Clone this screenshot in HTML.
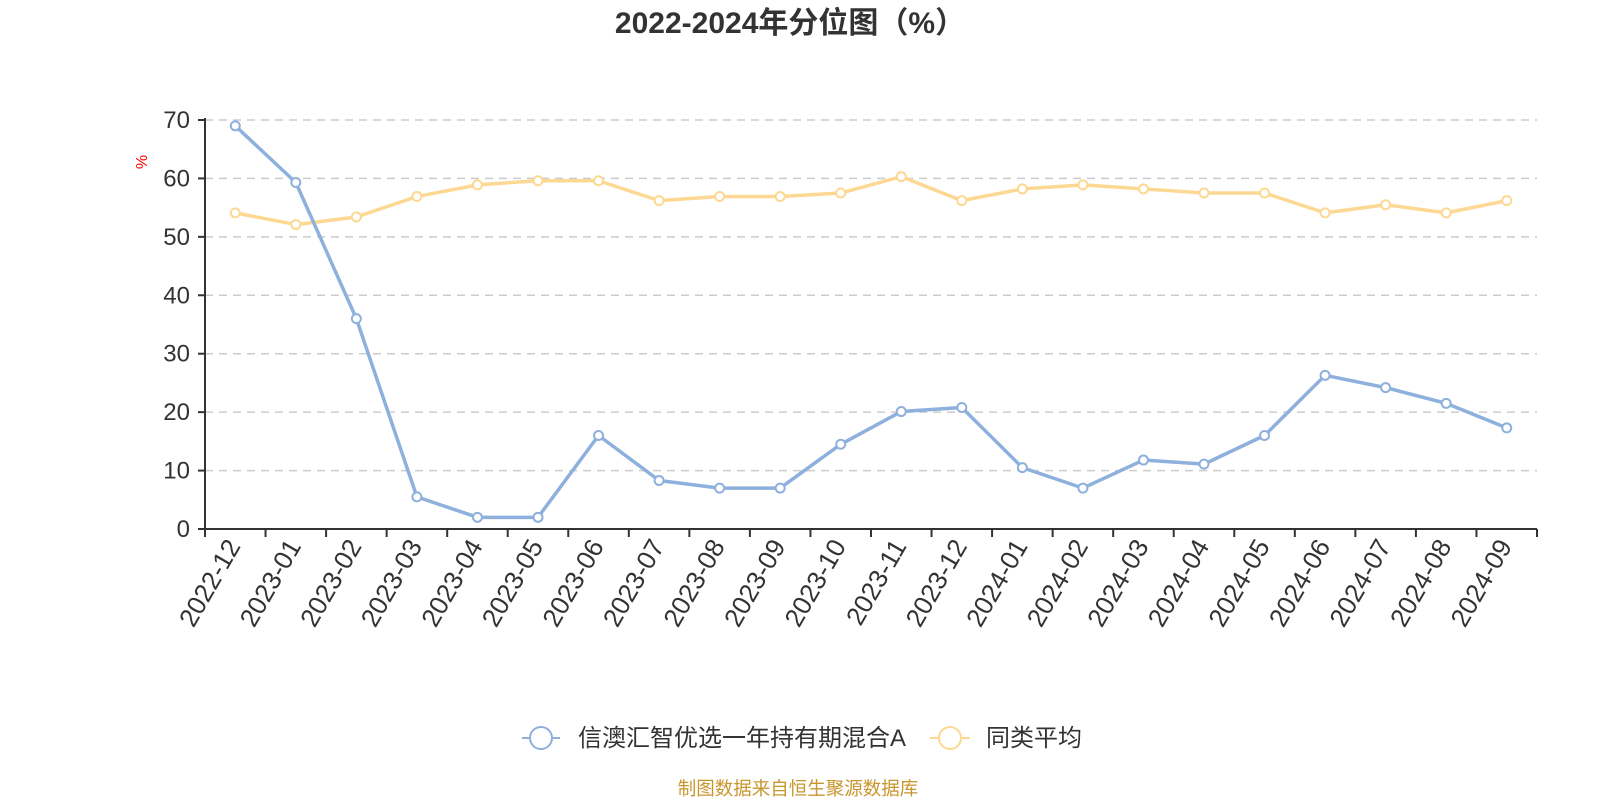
<!DOCTYPE html>
<html><head><meta charset="utf-8"><style>
html,body{margin:0;padding:0;background:#fff;}
svg{display:block;font-family:"Liberation Sans","Noto Sans CJK SC",sans-serif;}
</style></head><body>
<svg width="1600" height="800" viewBox="0 0 1600 800" xmlns="http://www.w3.org/2000/svg">
<text x="790" y="33" text-anchor="middle" font-size="30" font-weight="bold" fill="#333">2022-2024年分位图（%）</text>
<text x="0" y="0" transform="translate(147,162) rotate(-90)" text-anchor="middle" font-size="16" fill="#f00">%</text>
<g id="grid"></g>
<g id="chart"></g>
<g font-size="24" fill="#333">
<line x1="522" y1="738" x2="560" y2="738" stroke="#8eb0dc" stroke-width="2"/>
<circle cx="541" cy="738" r="11" fill="#fff" stroke="#8eb0dc" stroke-width="2"/>
<text x="578" y="746">信澳汇智优选一年持有期混合A</text>
<line x1="930" y1="738" x2="970" y2="738" stroke="#fdd893" stroke-width="2"/>
<circle cx="950" cy="738" r="11" fill="#fff" stroke="#fdd893" stroke-width="2"/>
<text x="986" y="746">同类平均</text>
</g>
<text x="798" y="795" text-anchor="middle" font-size="18.5" fill="#c8962e">制图数据来自恒生聚源数据库</text>
</svg>
<script>
const ns="http://www.w3.org/2000/svg";
const g=document.getElementById('chart'),gr=document.getElementById('grid');
function el(t,a,p){const e=document.createElementNS(ns,t);for(const k in a)e.setAttribute(k,a[k]);if(p)p.appendChild(e);return e;}
const L=205,R=1537,Y0=529,S=5.843,n=22,w=(R-L)/n;
for(let v=0;v<=70;v+=10){const y=Y0-v*S;
 if(v>0)el('line',{x1:L,x2:R,y1:y,y2:y,stroke:'#ccc','stroke-width':1.5,'stroke-dasharray':'8,6'},gr);
 el('line',{x1:L-7,x2:L,y1:y,y2:y,stroke:'#333','stroke-width':2},gr);
 const t=el('text',{x:L-15,y:y+8,'text-anchor':'end','font-size':24,fill:'#333'},gr);t.textContent=v;}
el('line',{x1:L,x2:L,y1:Y0-70*S-2,y2:Y0,stroke:'#333','stroke-width':2},gr);
el('line',{x1:L,x2:R,y1:Y0,y2:Y0,stroke:'#333','stroke-width':2},gr);
const labs=['2022-12','2023-01','2023-02','2023-03','2023-04','2023-05','2023-06','2023-07','2023-08','2023-09','2023-10','2023-11','2023-12','2024-01','2024-02','2024-03','2024-04','2024-05','2024-06','2024-07','2024-08','2024-09'];
for(let i=0;i<=n;i++){const x=L+i*w;el('line',{x1:x,x2:x,y1:Y0,y2:Y0+8,stroke:'#333','stroke-width':2},gr);}
labs.forEach((l,i)=>{const x=L+(i+0.5)*w;const t=el('text',{transform:`translate(${x+6},${Y0+17}) rotate(-60)`,'text-anchor':'end','font-size':26,fill:'#333'},gr);t.textContent=l;});
const A=[69,59.3,36,5.5,2,2,16,8.3,7,7,14.5,20.1,20.8,10.5,7,11.8,11.1,16,26.3,24.2,21.5,17.3];
const B=[54.1,52.1,53.4,56.9,58.9,59.6,59.6,56.2,56.9,56.9,57.5,60.3,56.2,58.2,58.9,58.2,57.5,57.5,54.1,55.5,54.1,56.2];
[[B,'#fdd893'],[A,'#8eb0dc']].forEach(([d,c])=>{
 const pts=d.map((v,i)=>[L+(i+0.5)*w,Y0-v*S]);
 el('polyline',{points:pts.map(p=>p.join(',')).join(' '),fill:'none',stroke:c,'stroke-width':3.5,'stroke-linejoin':'round'},g);
 pts.forEach(p=>el('circle',{cx:p[0],cy:p[1],r:4.5,fill:'#fff',stroke:c,'stroke-width':2},g));
});
</script>
</body></html>
